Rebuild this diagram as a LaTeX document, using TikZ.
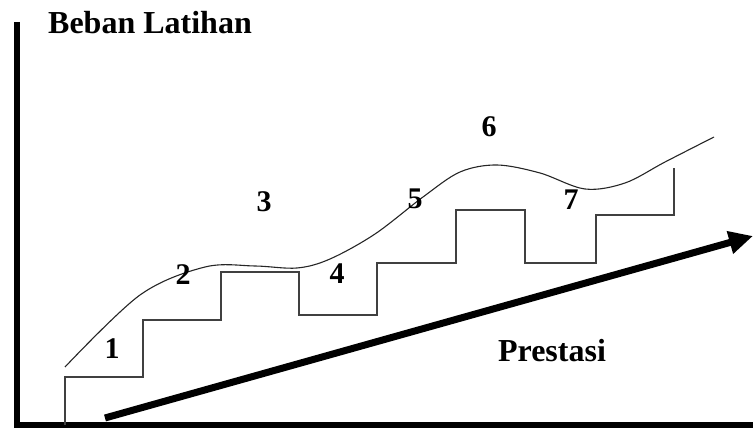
\documentclass[tikz,border=0pt]{standalone}
\usepackage{fontspec}
\setmainfont{Liberation Serif}
\usetikzlibrary{arrows.meta}
\begin{document}
\begin{tikzpicture}[x=1pt,y=-1pt,
  lbl/.style={font=\fontsize{32}{35}\selectfont\bfseries, inner sep=0pt},
  num/.style={font=\fontsize{30}{33}\selectfont\bfseries, inner sep=0pt},
  axis/.style={line width=5.5pt, black},
  stair/.style={line width=1.6pt, black!75},
  wave/.style={line width=1.1pt, black!85},
  trend/.style={line width=7pt, black, -{Triangle[length=24pt,width=22pt]}}]
\useasboundingbox (0,0) rectangle (753,430);
% axes
\draw[axis] (17,22) -- (17,425) -- (753,425);
% staircase
\draw[stair] (65,425) -- (65,377) -- (143,377) -- (143,320) -- (221,320) -- (221,272)
  -- (299,272) -- (299,315) -- (377,315) -- (377,263) -- (456,263) -- (456,210)
  -- (525,210) -- (525,263) -- (596,263) -- (596,215) -- (674,215) -- (674,168);
% wave curve
\draw[wave] plot[smooth, tension=0.55] coordinates {(65,367) (140,295) (205,267)
  (255,266) (297,268) (330,259) (375,234) (423,197) (460,172) (497,165)
  (540,173) (585,189) (625,183) (665,162) (714,137)};
% trend arrow
\coordinate (tstart) at (105,418);
\coordinate (tend) at (753,236);
\draw[trend] (tstart) -- (tend);
% labels
\node[lbl] (beban) at (150,23) {Beban Latihan};
\node[lbl] (prestasi) at (552,351) {Prestasi};
\node[num] (n1) at (112,349) {1};
\node[num] (n2) at (183,275) {2};
\node[num] (n3) at (264,202) {3};
\node[num] (n4) at (337,274) {4};
\node[num] (n5) at (415,199) {5};
\node[num] (n6) at (489,127) {6};
\node[num] (n7) at (571,200) {7};
\end{tikzpicture}
\end{document}
